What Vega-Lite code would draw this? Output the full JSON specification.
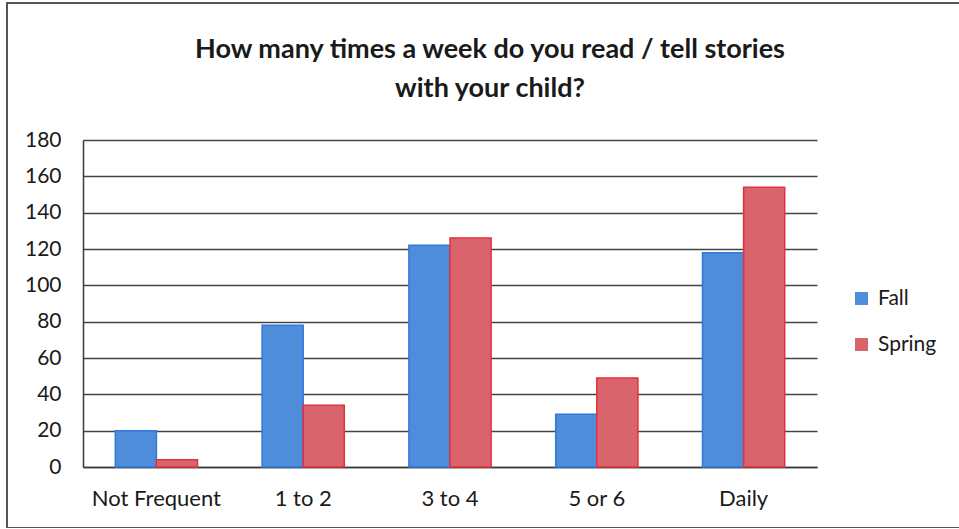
{
  "$schema": "https://vega.github.io/schema/vega-lite/v6.json",
  "autosize": "none",
  "padding": {"left": 7, "top": 3, "right": 0, "bottom": 0},
  "width": 960,
  "height": 525,
  "background": "white",
  "title": {
    "text": ["How many times a week do you read / tell stories", "with your child?"],
    "font": "Lato",
    "fontSize": 27,
    "fontWeight": "bold",
    "color": "#1a1a1a",
    "anchor": "middle",
    "dx": 3,
    "frame": "group",
    "lineHeight": 39,
    "offset": -100
  },
  "data": {
    "values": [
      {"frequency": "Not Frequent", "season": "Fall", "count": 20},
      {"frequency": "Not Frequent", "season": "Spring", "count": 4},
      {"frequency": "1 to 2", "season": "Fall", "count": 78},
      {"frequency": "1 to 2", "season": "Spring", "count": 34},
      {"frequency": "3 to 4", "season": "Fall", "count": 122},
      {"frequency": "3 to 4", "season": "Spring", "count": 126},
      {"frequency": "5 or 6", "season": "Fall", "count": 29},
      {"frequency": "5 or 6", "season": "Spring", "count": 49},
      {"frequency": "Daily", "season": "Fall", "count": 118},
      {"frequency": "Daily", "season": "Spring", "count": 154}
    ]
  },
  "mark": {"type": "bar", "strokeWidth": 1.5},
  "encoding": {
    "x": {
      "field": "frequency",
      "type": "nominal",
      "sort": ["Not Frequent", "1 to 2", "3 to 4", "5 or 6", "Daily"],
      "scale": {"range": [76, 810], "paddingInner": 0.44, "paddingOuter": 0.22},
      "axis": {
        "title": null,
        "offset": -61,
        "labelAngle": 0,
        "ticks": false,
        "domainColor": "#3a3a3a",
        "domainWidth": 1.5,
        "labelPadding": 21,
        "labelFont": "Lato",
        "labelFontSize": 22,
        "labelColor": "#1a1a1a"
      }
    },
    "xOffset": {
      "field": "season",
      "type": "nominal",
      "sort": ["Fall", "Spring"],
      "scale": {"paddingInner": 0, "paddingOuter": 0}
    },
    "y": {
      "field": "count",
      "type": "quantitative",
      "scale": {"domain": [0, 180], "range": [464, 137], "nice": false},
      "axis": {
        "title": null,
        "offset": -76,
        "values": [0, 20, 40, 60, 80, 100, 120, 140, 160, 180],
        "ticks": false,
        "domainColor": "#3a3a3a",
        "domainWidth": 1.5,
        "gridColor": "#444444",
        "gridWidth": 1.3,
        "labelPadding": 22,
        "labelFont": "Lato",
        "labelFontSize": 21,
        "labelColor": "#1a1a1a"
      }
    },
    "fill": {
      "field": "season",
      "type": "nominal",
      "scale": {"domain": ["Fall", "Spring"], "range": ["#4f8ddb", "#d9646b"]},
      "legend": {
        "title": null,
        "orient": "none",
        "legendX": 844,
        "legendY": 285,
        "symbolType": "square",
        "symbolSize": 170,
        "symbolStrokeWidth": 0,
        "rowPadding": 24,
        "labelFont": "Lato",
        "labelFontSize": 21,
        "labelColor": "#1a1a1a",
        "labelOffset": 6
      }
    },
    "stroke": {
      "field": "season",
      "type": "nominal",
      "scale": {"domain": ["Fall", "Spring"], "range": ["#3278dc", "#e3303d"]},
      "legend": null
    }
  },
  "config": {
    "view": {"stroke": "#555555", "strokeWidth": 2}
  }
}
